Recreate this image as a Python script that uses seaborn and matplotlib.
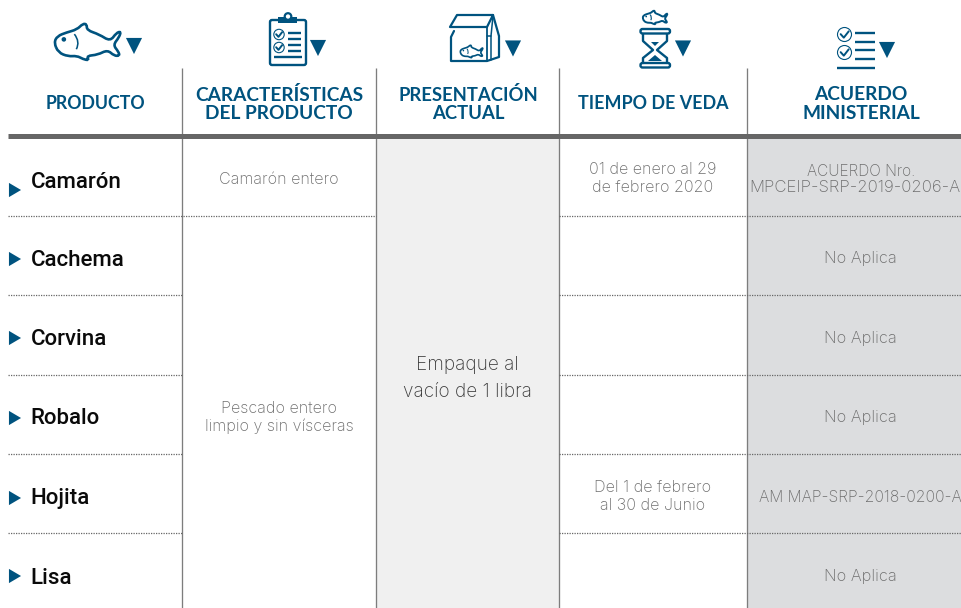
import numpy as np
import pandas as pd
import matplotlib
matplotlib.use("Agg")
import matplotlib.pyplot as plt
from matplotlib.path import Path
from matplotlib.patches import PathPatch, Circle, FancyBboxPatch, Polygon, Rectangle
import seaborn as sns

# ---------- table content ----------
productos = ["Camarón", "Cachema", "Corvina", "Robalo", "Hojita", "Lisa"]
encabezados = ["PRODUCTO", "CARACTERÍSTICAS\nDEL PRODUCTO", "PRESENTACIÓN\nACTUAL",
               "TIEMPO DE VEDA", "ACUERDO\nMINISTERIAL"]
caracteristica_camaron = "Camarón entero"
caracteristica_pescado = "Pescado entero\nlimpio y sin vísceras"
presentacion = "Empaque al\nvacío de 1 libra"
veda = ["01 de enero al 29\nde febrero 2020", "", "", "", "Del 1 de febrero\nal 30 de Junio", ""]
acuerdos = ["ACUERDO Nro.\nMPCEIP-SRP-2019-0206-A", "No Aplica", "No Aplica", "No Aplica",
            "AM MAP-SRP-2018-0200-A", "No Aplica"]

# ---------- layout (pixels) ----------
W, H = 962, 608
BLUE = "#00537f"
COL_X = [182.5, 376.5, 559, 747.5]
COL_C = [95, 279, 468, 653, 861]
ROW_LINES = [215.5, 295, 374.5, 453.5, 533]
ROW_TXT = [182, 260, 339.5, 419, 498.5, 578]
ROW_ARW = [190, 259, 338, 418, 498, 576]

sns.set_style("white")
plt.rcParams["font.family"] = ["Roboto", "DejaVu Sans"]
HEAD = ["Lato", "Roboto"]
BODY = ["Inter", "Roboto"]

fig = plt.figure(figsize=(W / 100, H / 100), dpi=100)
ax = fig.add_axes([0, 0, 1, 1])
ax.set_xlim(0, W)
ax.set_ylim(H, 0)
ax.axis("off")

# fills
ax.add_patch(Rectangle((COL_X[1], 138), COL_X[2] - COL_X[1], H - 138, fc="#f0f0f0", ec="none", zorder=0))
ax.add_patch(Rectangle((COL_X[3], 138), W - COL_X[3], H - 138, fc="#dcdddf", ec="none", zorder=0))

# rules
ax.vlines(COL_X, 68, H, color="#7d7d7d", lw=0.95, zorder=2)
ax.hlines(136, 8, W, color="#666666", lw=3.6, zorder=3)
for i, y in enumerate(ROW_LINES):
    right_edge = COL_X[1] if i == 0 else COL_X[0]
    ax.plot([8, right_edge], [y, y], color="#666666", lw=0.9, ls=(0, (1, 1)), zorder=2)
    ax.plot([COL_X[2], W], [y, y], color="#666666", lw=0.9, ls=(0, (1, 1)), zorder=2)


def poly_spline(pts):
    """smooth outline through control points"""
    pts = np.asarray(pts, float)
    n = len(pts)
    mids = (pts + np.roll(pts, -1, axis=0)) / 2
    verts = [mids[-1]]
    codes = [Path.MOVETO]
    for i in range(n):
        verts += [pts[i], mids[i]]
        codes += [Path.CURVE3, Path.CURVE3]
    return Path(verts, codes)


FISH = np.array([(162, 128), (172, 108), (200, 97), (232, 88), (250, 70), (262, 72), (262, 90),
                 (300, 103), (333, 124), (352, 98), (366, 94), (360, 112), (342, 135), (358, 155),
                 (362, 168), (345, 168), (325, 150), (295, 165), (262, 168), (268, 182), (250, 178),
                 (232, 168), (205, 170), (175, 158)], float)


def fish(cx, cy, width, lw):
    x0, x1 = FISH[:, 0].min(), FISH[:, 0].max()
    y0, y1 = FISH[:, 1].min(), FISH[:, 1].max()
    k = width / (x1 - x0)
    pts = (FISH - [(x0 + x1) / 2, (y0 + y1) / 2]) * k + [cx, cy]
    ax.add_patch(PathPatch(poly_spline(pts), fc="white", ec=BLUE, lw=lw, zorder=4))
    ax.add_patch(Circle((cx + (190 - 262) * k, cy + (118 - 126) * k), max(0.5, 7 * k), fc=BLUE, ec="none", zorder=5))
    gill = Path([(cx + (222 - 262) * k, cy + (102 - 126) * k),
                 (cx + (240 - 262) * k, cy + (125 - 126) * k),
                 (cx + (228 - 262) * k, cy + (148 - 126) * k)], [Path.MOVETO, Path.CURVE3, Path.CURVE3])
    ax.add_patch(PathPatch(gill, fc="none", ec=BLUE, lw=lw * 0.6, zorder=5))


def check_circle(x, y, r):
    ax.add_patch(Circle((x, y), r, fc="none", ec=BLUE, lw=0.8, zorder=4))
    ax.plot([x - r * 0.55, x - r * 0.1, x + r * 0.6], [y - r * 0.05, y + r * 0.45, y - r * 0.45],
            color=BLUE, lw=1.4, zorder=4)


def hbars(x0, x1, ys, lw=1.7):
    ax.hlines(ys, x0, x1, color=BLUE, lw=lw, zorder=4)


# fish icon
fish(87.5, 42, 67, 1.9)

# clipboard icon
ax.add_patch(FancyBboxPatch((270, 20), 36, 45, boxstyle="round,pad=0,rounding_size=2",
                            fc="white", ec=BLUE, lw=1.7, zorder=4))
ax.add_patch(Rectangle((278, 17), 19, 6, fc=BLUE, ec="none", zorder=5))
ax.add_patch(Circle((288, 16.5), 3.3, fc="white", ec=BLUE, lw=1.6, zorder=5))
check_circle(279, 34.5, 5.2)
check_circle(279, 47.5, 5.2)
hbars(288, 301.5, [32.5, 38.5, 44.5, 50.5])
hbars(274, 302, [56.5])

# bag icon
bag_out = [(454, 31), (451, 37), (451, 61), (487, 61), (499, 57), (499, 36), (493, 15), (457, 15), (450, 27), (487, 27), (493, 15)]
ax.plot(*zip(*bag_out), color=BLUE, lw=1.6, zorder=4, solid_joinstyle="round")
ax.plot([487, 487], [27, 61], color=BLUE, lw=1.3, zorder=4)
ax.plot([487, 491, 491], [36, 36, 60], color=BLUE, lw=1.1, zorder=4)
ax.plot([491, 493], [36, 16], color=BLUE, lw=1.1, zorder=4)
fish(471.5, 51.5, 23, 1.2)

# hourglass icon
fish(655, 17.5, 25, 1.4)
for ytop in (29, 63):
    ax.add_patch(FancyBboxPatch((640.5, ytop), 29.5, 4.5, boxstyle="round,pad=0,rounding_size=2",
                                fc="white", ec=BLUE, lw=1.7, zorder=4))
for side in (-1, 1):
    ax.plot([655 + side * 12, 655 + side * 12, 655 + side * 2, 655 + side * 12, 655 + side * 12],
            [34, 41, 50, 58, 63], color=BLUE, lw=1.7, zorder=4)
ax.add_patch(Polygon([(648, 61), (662, 61), (655, 55)], fc=BLUE, ec="none", zorder=4))
ax.add_patch(Polygon([(651, 42), (659, 42), (655, 46)], fc=BLUE, ec="none", zorder=4))

# list icon
check_circle(844.5, 34.5, 7)
check_circle(844.5, 52.5, 7)
hbars(855, 875, [32.5, 41.5, 49.5, 58.5])
hbars(837.5, 875, [67.5])

# triangles (seaborn markers)
down = pd.DataFrame({"x": [134, 318, 513, 683, 887], "y": [46, 48, 48.5, 48.5, 50]})
sns.scatterplot(data=down, x="x", y="y", marker="v", s=135, color=BLUE, edgecolor="none", ax=ax, zorder=6, legend=False)
right = pd.DataFrame({"x": [15] * len(productos), "y": ROW_ARW, "producto": productos})
sns.scatterplot(data=right, x="x", y="y", marker=[(-0.85, -1), (0.85, 0), (-0.85, 1)], s=105, color=BLUE,
                edgecolor="none", ax=ax, zorder=6, legend=False)
ax.set_xlim(0, W)
ax.set_ylim(H, 0)
ax.set_xlabel("")
ax.set_ylabel("")

# headers
head_y = [103.5, 104, 104, 103.5, 104]
head_fs = [12.8, 13.8, 13.3, 12.9, 13.8]
for x, y, t, fs in zip(COL_C, head_y, encabezados, head_fs):
    ax.text(x, y, t, ha="center", va="center", color=BLUE, fontsize=fs, fontweight="bold",
            family=HEAD, linespacing=1.14, zorder=6)

# product names
for y, t in zip(ROW_TXT, productos):
    ax.text(30.5, y, t, ha="left", va="center", color="#0a0a0a", fontsize=16, fontweight="medium", zorder=6)

GREY = "#6e6e6e"
cell = dict(ha="center", va="center", color=GREY, fontsize=11.6, fontweight="light", family=BODY,
            linespacing=1.2, zorder=6)
ax.text(COL_C[1], 179.5, caracteristica_camaron, **cell)
ax.text(COL_C[1], 417, caracteristica_pescado, **cell)
ax.text(467.5, 378.5, presentacion, ha="center", va="center", color="#3c3c3c", fontsize=13.7,
        fontweight="light", family=BODY, linespacing=1.65, zorder=6)
for y, t in zip([178.5, 258, 337, 417, 496.5, 576], veda):
    if t:
        ax.text(653, y, t, **cell)

# first agreement has two lines set at different widths in the source
primera, segunda = acuerdos[0].split("\n")
ax.text(861, 171, primera, **{**cell, "fontsize": 11.1})
ax.text(855, 188, segunda, **{**cell, "fontsize": 12.1})
acuerdo_y = [None, 258.5, 338.5, 417.5, 497.5, 576.5]
sizes = [None, 11.8, 11.8, 11.8, 11.3, 11.8]
for y, t, fs in zip(acuerdo_y[1:], acuerdos[1:], sizes[1:]):
    ax.text(860, y, t, **{**cell, "fontsize": fs})

fig.savefig("out.png", dpi=100)
